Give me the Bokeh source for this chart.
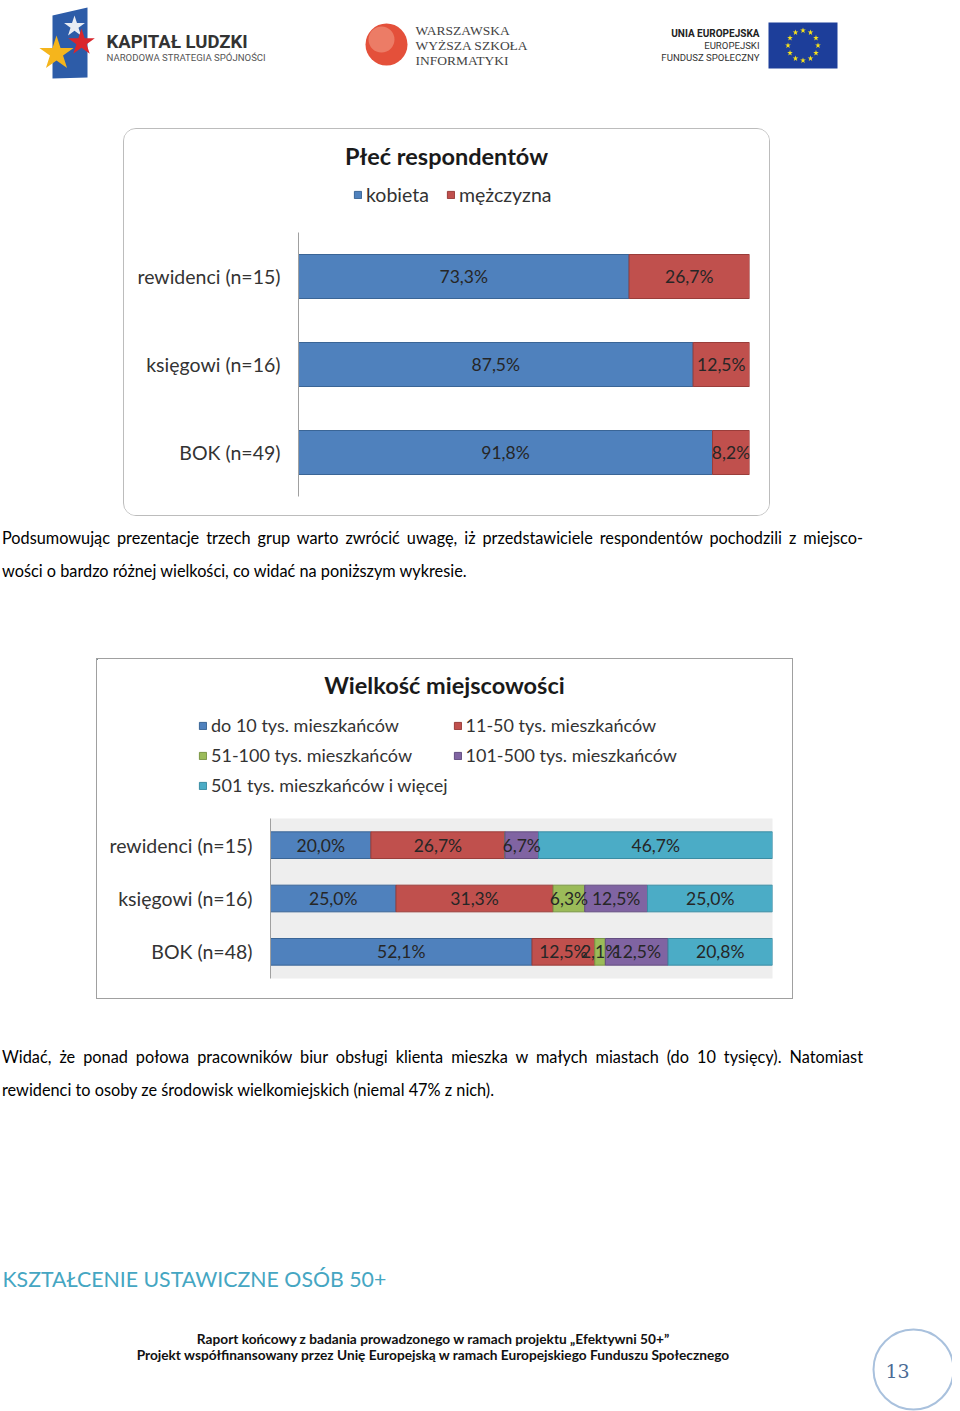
import math
from bokeh.plotting import figure
from bokeh.models import (ColumnDataSource, Range1d, FactorRange, Legend,
                          LegendItem, Div, Spacer)
from bokeh.layouts import column, row
from bokeh.core.properties import value
from bokeh.embed import file_html
from bokeh.resources import INLINE

# ---------------- data ----------------
groups_sex = ["rewidenci (n=15)", "księgowi (n=16)", "BOK (n=49)"]
sex_names = ["kobieta", "mężczyzna"]
sex_kobieta = [73.3, 87.5, 91.8]
sex_mezczyzna = [26.7, 12.5, 8.2]

groups_town = ["rewidenci (n=15)", "księgowi (n=16)", "BOK (n=48)"]
town_names = ["do 10 tys. mieszkańców", "11-50 tys. mieszkańców",
              "51-100 tys. mieszkańców", "101-500 tys. mieszkańców",
              "501 tys. mieszkańców i więcej"]
town_do10 = [20.0, 25.0, 52.1]
town_11_50 = [26.7, 31.3, 12.5]
town_51_100 = [0.0, 6.3, 2.1]
town_101_500 = [6.7, 12.5, 12.5]
town_501plus = [46.7, 25.0, 20.8]

title_sex = "Płeć respondentów"
title_town = "Wielkość miejscowości"

para1 = ["Podsumowując prezentacje trzech grup warto zwrócić uwagę, iż przedstawiciele respondentów pochodzili z miejsco-",
         "wości o bardzo różnej wielkości, co widać na poniższym wykresie."]
para2 = ["Widać, że ponad połowa pracowników biur obsługi klienta mieszka w małych miastach (do 10 tysięcy). Natomiast",
         "rewidenci to osoby ze środowisk wielkomiejskich (niemal 47% z nich)."]
heading = "KSZTAŁCENIE USTAWICZNE OSÓB 50+"
footer_lines = ["Raport końcowy z badania prowadzonego w ramach projektu „Efektywni 50+”",
                "Projekt współfinansowany przez Unię Europejską w ramach Europejskiego Funduszu Społecznego"]
page_number = "13"

FILLS = ["#4F81BD", "#C0504D", "#9BBB59", "#8064A2", "#4BACC6"]
LINES = ["#3A6596", "#9A3D3A", "#7A9645", "#634D80", "#3A8CA3"]
FONT = "Lato"


def pct(v):
    return f"{v:.1f}".replace(".", ",") + "%"


def plain(w, h, x0, y0):
    f = figure(width=w, height=h, x_range=Range1d(x0, x0 + w), y_range=Range1d(y0 + h, y0),
               output_backend="svg", toolbar_location=None, x_axis_location=None,
               y_axis_location=None, min_border=0)
    f.outline_line_color = None
    f.grid.visible = False
    return f


def chart_box(groups, names, series, inner_w, top_h, chart_h, x0, y0, mb, bg, border_css,
              title, title_xy, title_size, legend_loc, legend_size, legend_kw):
    n = len(series)
    # --- title + legend strip
    top = plain(inner_w, top_h, x0, y0)
    # legend swatches (kept off-canvas so only the legend shows them)
    dummies = [top.hbar(y=[-5000], left=[0], right=[1], height=1, fill_color=FILLS[i],
                        line_color=LINES[i], line_width=1) for i in range(n)]
    top.text(x=[title_xy[0]], y=[title_xy[1]], text=[title], text_font=value(FONT),
             text_font_style="bold", text_font_size=title_size, text_color="#1a1a1a",
             text_align="center", text_baseline="middle")
    legend = Legend(items=[LegendItem(label=nm, renderers=[r]) for nm, r in zip(names, dummies)],
                    location=legend_loc, padding=0, margin=0, border_line_color=None,
                    background_fill_alpha=0, glyph_width=9, glyph_height=9,
                    label_standoff=4, label_text_font=FONT, label_text_font_size=legend_size,
                    label_text_color="#333333", **legend_kw)
    top.add_layout(legend)

    # --- bars
    keys = [f"s{i}" for i in range(n)]
    data = dict(cat=groups)
    for k, s in zip(keys, series):
        data[k] = s
    src = ColumnDataSource(data)
    p = figure(width=inner_w, height=chart_h, y_range=FactorRange(factors=groups[::-1]),
               x_range=Range1d(0, 100), output_backend="svg", toolbar_location=None,
               x_axis_location=None, min_border_left=mb[0], min_border_right=mb[1],
               min_border_top=0, min_border_bottom=mb[2])
    p.background_fill_color = bg
    p.outline_line_color = None
    p.grid.grid_line_color = None
    p.hbar_stack(keys, y="cat", height=0.5, fill_color=FILLS[:n], line_color=LINES[:n],
                 line_width=1, source=src)
    ax = p.yaxis[0]
    ax.axis_line_color = "#a0a0a0"
    ax.major_tick_line_color = None
    ax.minor_tick_line_color = None
    ax.major_tick_out = 0
    ax.major_tick_in = 0
    ax.major_label_standoff = 18
    ax.major_label_text_font = FONT
    ax.major_label_text_font_size = "19.5px"
    ax.major_label_text_color = "#333333"

    xs, ys, ts = [], [], []
    for gi, g in enumerate(groups):
        left = 0.0
        for s in series:
            v = s[gi]
            if v > 0:
                xs.append(left + v / 2.0)
                ys.append(g)
                ts.append(pct(v))
            left += v
    p.text(x="x", y="y", text="t", source=ColumnDataSource(dict(x=xs, y=ys, t=ts)),
           text_align="center", text_baseline="middle", text_font=value(FONT),
           text_font_size="17.5px", text_color="#262626")
    return column(row(top), row(p), styles=border_css)


box1 = chart_box(groups_sex, sex_names, [sex_kobieta, sex_mezczyzna],
                 645, 103, 283, 124, 129, (174, 20, 19), "white",
                 {"border": "1px solid #bcbcbc", "border-radius": "13px", "overflow": "hidden"},
                 title_sex, (446, 155), "23.5px", (229, 26), "19.5px",
                 dict(orientation="horizontal", spacing=17))

box2 = chart_box(groups_town, town_names,
                 [town_do10, town_11_50, town_51_100, town_101_500, town_501plus],
                 695, 159, 180, 97, 659, (173, 20, 20), "#eeeeee",
                 {"border": "1px solid #a0a0a0"},
                 title_town, (444, 684), "23.5px", (101, 20.5), "18px",
                 dict(orientation="horizontal", ncols=2, spacing=5, label_height=25))

# ---------------- header ----------------
hdr = plain(952, 128, 0, 0)
hdr.patch(x=[52, 87, 87, 52], y=[15, 7, 77, 78], fill_color="#2d5ca8", line_color=None)
hdr.scatter(x=[74], y=[26], marker="star", size=22, fill_color="#e8ecf3", line_color=None)
hdr.scatter(x=[81], y=[42], marker="star", size=28, fill_color="#d9262c", line_color=None)
hdr.scatter(x=[56], y=[53], marker="star", size=36, fill_color="#f5b51c", line_color=None)
hdr.text(x=[106], y=[41], text=["KAPITAŁ LUDZKI"], text_font=value("Roboto"),
         text_font_style="bold", text_font_size="18.5px", text_color="#333333",
         text_baseline="middle")
hdr.text(x=[106], y=[57], text=["NARODOWA STRATEGIA SPÓJNOŚCI"], text_font=value("Roboto"),
         text_font_size="9.6px", text_color="#555555", text_baseline="middle")

hdr.scatter(x=[386], y=[44], marker="circle", size=42, fill_color="#e4503a", line_color=None)
hdr.scatter(x=[381], y=[39], marker="circle", size=26, fill_color="#f3a08a", fill_alpha=0.55,
            line_color=None)
hdr.text(x=[415, 415, 415], y=[30, 45, 60], text=["WARSZAWSKA", "WYŻSZA SZKOŁA", "INFORMATYKI"],
         text_font=value("Liberation Serif"), text_font_size="13.5px", text_color="#444444",
         text_baseline="middle")

hdr.text(x=[759], y=[33], text=["UNIA EUROPEJSKA"], text_font=value("Roboto"),
         text_font_size="10px", text_color="#222222", text_align="right",
         text_baseline="middle", text_font_style="bold")
hdr.text(x=[759, 759], y=[45, 57], text=["EUROPEJSKI", "FUNDUSZ SPOŁECZNY"],
         text_font=value("Roboto"), text_font_size="9.6px", text_color="#333333",
         text_align="right", text_baseline="middle")
hdr.quad(left=[768], right=[837], top=[22], bottom=[68], fill_color="#1d3e9a", line_color=None)
sx = [802.5 + 15 * math.cos(2 * math.pi * k / 12) for k in range(12)]
sy = [45 + 15 * math.sin(2 * math.pi * k / 12) for k in range(12)]
hdr.scatter(x=sx, y=sy, marker="star", size=6, fill_color="#f7e21b", line_color=None)

# ---------------- paragraphs ----------------
pstyle = (f"font-family:{FONT};font-size:16.3px;color:#000000;line-height:33px;"
          "width:863px;padding-left:2px;")


def para(lines, pad, h):
    html = (f'<div style="{pstyle}padding-top:{pad}px">'
            f'<div style="text-align:justify;text-align-last:justify">{lines[0]}</div>'
            f'<div>{lines[1]}</div></div>')
    return Div(text=html, width=952, height=h, margin=0)


div1 = para(para1, 5, 142)
div2 = para(para2, 41, 121)

# ---------------- footer ----------------
ftr = plain(952, 291, 0, 1120)
ftr.text(x=[2], y=[1278], text=[heading], text_font=value(FONT), text_font_size="21.3px",
         text_color="#45A6C2", text_baseline="middle")
ftr.text(x=[433, 433], y=[1338, 1354], text=footer_lines, text_font=value(FONT),
         text_font_style="bold", text_font_size="13.7px", text_color="#111111",
         text_align="center", text_baseline="middle")
ftr.scatter(x=[913], y=[1369], marker="circle", size=80, fill_color=None,
            line_color="#a9c1dd", line_width=2)
ftr.text(x=[897], y=[1370], text=[page_number], text_font=value("DejaVu Serif"),
         text_font_size="19px", text_color="#4a6b95", text_align="center",
         text_baseline="middle")

layout = column(
    hdr,
    row(Spacer(width=123, height=388, margin=0), box1),
    div1,
    row(Spacer(width=96, height=341, margin=0), box2),
    div2,
    ftr,
)

open("out.html", "w").write(file_html(layout, INLINE))
